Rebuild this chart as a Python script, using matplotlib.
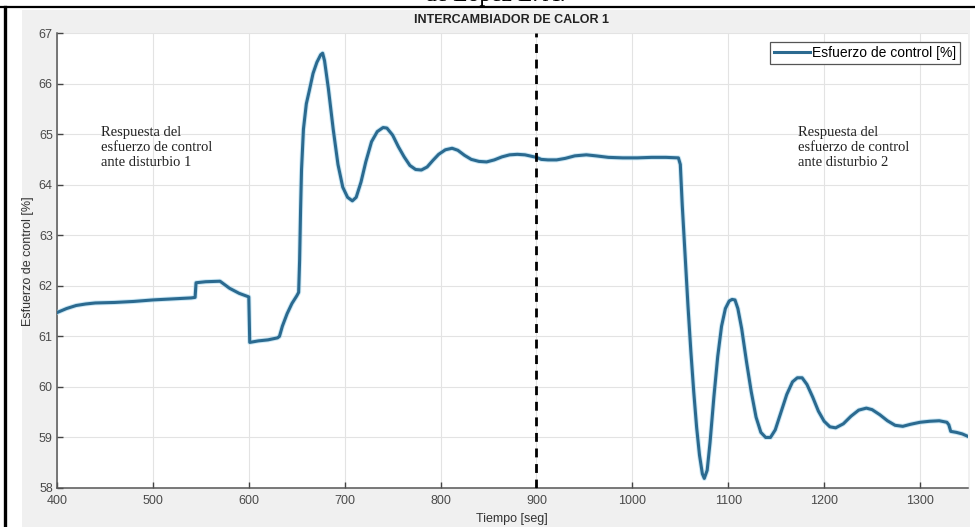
import matplotlib.pyplot as plt
from matplotlib.patches import Rectangle
from matplotlib.lines import Line2D

# Control effort of heat exchanger 1 (time in s, effort in %)
tiempo = [400, 410, 420, 430, 440, 460, 480, 500, 520, 540, 544,
          545, 555, 570, 575, 580, 590, 600,
          601, 610, 620, 630, 632, 635, 640, 645, 650, 652,
          653, 654, 655, 657, 660, 663, 667, 671, 675, 677, 679, 683, 688,
          693, 698, 703, 708, 712, 717, 722, 728, 734, 740, 744, 750, 756,
          762, 768, 774, 780, 786, 792, 798, 805, 812, 818, 825, 832, 840,
          848, 856, 864, 872, 880, 888, 895, 900, 905, 912, 921, 930, 940,
          952, 962, 975, 990, 1005, 1020, 1035, 1048,
          1050, 1052, 1055, 1058, 1061, 1064, 1067, 1070, 1073, 1075, 1078,
          1081, 1085, 1089, 1093, 1097, 1101, 1104, 1107, 1110, 1114, 1119,
          1124, 1129, 1134, 1139, 1144, 1149, 1155, 1161, 1167, 1172, 1177,
          1182, 1188, 1194, 1200, 1206, 1212, 1220, 1228, 1236, 1244, 1250,
          1258, 1266, 1274, 1282, 1290, 1300, 1310, 1320, 1328, 1330, 1332,
          1338, 1344, 1350]
esfuerzo = [61.47, 61.55, 61.61, 61.64, 61.66, 61.67, 61.69, 61.72, 61.74, 61.76, 61.77,
            62.06, 62.08, 62.09, 62.02, 61.95, 61.85, 61.78,
            60.88, 60.91, 60.93, 60.97, 61.00, 61.20, 61.45, 61.65, 61.80, 61.87,
            62.50, 63.50, 64.30, 65.10, 65.60, 65.85, 66.20, 66.42, 66.57, 66.60, 66.45, 65.90, 65.10,
            64.40, 63.95, 63.75, 63.68, 63.75, 64.05, 64.45, 64.85, 65.05, 65.13, 65.12, 64.98, 64.75,
            64.55, 64.38, 64.30, 64.29, 64.35, 64.48, 64.60, 64.69, 64.72, 64.68, 64.58, 64.50, 64.46,
            64.45, 64.49, 64.55, 64.59, 64.60, 64.59, 64.56, 64.54, 64.50, 64.49, 64.49, 64.52, 64.57,
            64.59, 64.57, 64.54, 64.53, 64.53, 64.54, 64.54, 64.53,
            64.40, 63.60, 62.60, 61.60, 60.70, 59.90, 59.20, 58.65, 58.28, 58.19, 58.35,
            58.90, 59.80, 60.60, 61.20, 61.55, 61.70, 61.73, 61.72, 61.55, 61.15, 60.50,
            59.90, 59.40, 59.10, 59.00, 59.00, 59.15, 59.50, 59.85, 60.10, 60.18, 60.18,
            60.05, 59.80, 59.52, 59.32, 59.21, 59.19, 59.27, 59.42, 59.54, 59.58, 59.55,
            59.45, 59.33, 59.24, 59.22, 59.26, 59.30, 59.32, 59.33, 59.30, 59.25, 59.12,
            59.10, 59.07, 59.02]

x_ticks = [400, 500, 600, 700, 800, 900, 1000, 1100, 1200, 1300]
y_ticks = [58, 59, 60, 61, 62, 63, 64, 65, 66, 67]
t_disturbio = 900

W, H = 975, 527
fig = plt.figure(figsize=(W / 100, H / 100), dpi=100)
fig.patch.set_facecolor('white')

# grey figure panel and page borders
fig.patches.append(Rectangle((22 / W, 0), (970 - 22) / W, 1 - 10 / H,
                             transform=fig.transFigure, facecolor='#f0f0f0',
                             edgecolor='none', zorder=-5))
fig.lines.append(Line2D([0, 1], [1 - 7 / H, 1 - 7 / H], transform=fig.transFigure,
                        color='black', lw=1.6))
fig.lines.append(Line2D([5 / W, 5 / W], [0, 1 - 7 / H], transform=fig.transFigure,
                        color='black', lw=2.4))
fig.text(495 / W, 1 - 1 / H, 'de López L. A.', family='Liberation Serif',
         fontsize=17, ha='center', va='baseline', color='black')

ax = fig.add_axes([57 / W, 39 / H, 911 / W, 455 / H])
ax.set_zorder(2)
ax.set_facecolor('white')

ax.plot(tiempo, esfuerzo, color='#a8d8ee', lw=3.6, alpha=0.6, zorder=3)
ax.plot(tiempo, esfuerzo, color='#2b6a90', lw=2.2, zorder=4,
        label='Esfuerzo de control [%]')
ax.axvline(t_disturbio, color='black', lw=2.0, dashes=(3.2, 2.4), zorder=5)

ax.set_xlim(400, 1350)
ax.set_ylim(58, 67)
ax.set_xticks(x_ticks)
ax.set_yticks(y_ticks)
ax.grid(True, color='#e3e3e3', lw=0.8)
ax.set_axisbelow(True)
for s in ['top', 'right']:
    ax.spines[s].set_visible(False)
for s in ['left', 'bottom']:
    ax.spines[s].set_color('#555555')
    ax.spines[s].set_linewidth(1.1)
ax.tick_params(direction='in', length=4, width=1, color='#444444',
               labelcolor='#4a4a4a', labelsize=9, labelfontfamily='Liberation Sans')
ax.tick_params(axis='x', pad=5)
ax.tick_params(axis='y', pad=3)

ax.text(446, 65.17, 'Respuesta del\nesfuerzo de control\nante disturbio 1',
        family='Liberation Serif', fontsize=10.5, color='#222222',
        ha='left', va='top', linespacing=1.2)
ax.text(1173, 65.17, 'Respuesta del\nesfuerzo de control\nante disturbio 2',
        family='Liberation Serif', fontsize=10.5, color='#222222',
        ha='left', va='top', linespacing=1.2)

leg = ax.legend(loc='upper right', bbox_to_anchor=((960 - 57) / 911, 1 - 9 / 455),
                borderaxespad=0, fancybox=False, framealpha=1, handlelength=2.6,
                handletextpad=0.1, borderpad=0.3,
                prop={'family': 'Liberation Sans', 'size': 10})
leg.get_frame().set_edgecolor('#555555')
leg.get_frame().set_linewidth(0.9)

fig.text(512 / W, 1 - 20 / H, 'INTERCAMBIADOR DE CALOR 1', family='Liberation Sans',
         fontsize=9, fontweight='bold', ha='center', va='center', color='#222222')
fig.text(512 / W, 1 - 519 / H, 'Tiempo [seg]', family='Liberation Sans',
         fontsize=9, ha='center', va='center', color='#333333')
fig.text(28 / W, 1 - 261 / H, 'Esfuerzo de control [%]', family='Liberation Sans',
         fontsize=9, ha='center', va='center', rotation=90, color='#333333')

fig.savefig('out.png', dpi=100)
